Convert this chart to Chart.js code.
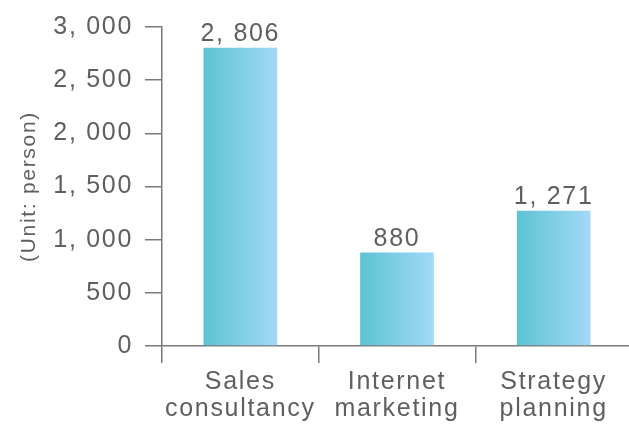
<!DOCTYPE html>
<html>
<head>
<meta charset="utf-8">
<script src="https://cdn.jsdelivr.net/npm/chart.js@4"></script>
<style>
    html, body { margin: 0; padding: 0; background: #fff; overflow: hidden; }
    #wrap { width: 632px; height: 430px; }
</style>
</head>
<body>
<div id="wrap"><canvas id="chart1"></canvas></div>
<script>
const categories = [["Sales", "consultancy"], ["Internet", "marketing"], ["Strategy", "planning"]];
const persons = [2806, 880, 1271];
const yTicks = [0, 500, 1000, 1500, 2000, 2500, 3000];

const textColor = '#5f5f5f';
const lineColor = '#7a7a7a';
const fontFamily = '"Liberation Sans", Arial, sans-serif';

function fmt(v)
{
    // the picture shows a gap after the comma
    return v.toLocaleString('en-US').replace(',', ', ');
}

// letter spacing for the whole canvas (the context is reset on every resize)
const spacing = {
    id: 'spacing',
    beforeUpdate(chart) { chart.ctx.letterSpacing = '1.7px'; },
    beforeLayout(chart) { chart.ctx.letterSpacing = '1.7px'; },
    beforeDraw(chart) { chart.ctx.letterSpacing = '1.7px'; }
};

// value above each bar
const barLabels = {
    id: 'barLabels',
    afterDatasetsDraw(chart) {
        const ctx = chart.ctx;
        const meta = chart.getDatasetMeta(0);
        ctx.save();
        ctx.font = '25px ' + fontFamily;
        ctx.fillStyle = textColor;
        ctx.textAlign = 'center';
        ctx.textBaseline = 'bottom';
        meta.data.forEach((bar, i) => {
            ctx.fillText(fmt(persons[i]), bar.x, bar.y - 1);
        });
        ctx.restore();
    }
};

function barGradient(context)
{
    const chart = context.chart;
    const x = chart.scales.x;
    if (!x || !chart.chartArea) return '#7fcde4';
    const center = x.getPixelForValue(context.dataIndex);
    const half = (x.width / categories.length) * 0.47 / 2;
    const g = chart.ctx.createLinearGradient(center - half, 0, center + half, 0);
    g.addColorStop(0, '#5cc3d2');
    g.addColorStop(1, '#a2d9f6');
    return g;
}

{
    const ctx = document.getElementById("chart1").getContext('2d');

    const chart = new Chart(ctx, {
        type: 'bar',
        data: {
            labels: categories,
            datasets: [{
                data: persons,
                backgroundColor: barGradient,
                borderWidth: 0,
                categoryPercentage: 1,
                barPercentage: 0.47
            }]
        },
        options: {
            responsive: true,
            maintainAspectRatio: false,
            animation: false,
            layout: { padding: { top: 24, right: 0, bottom: 0, left: 0 } },
            plugins: {
                legend: { display: false },
                tooltip: { enabled: false }
            },
            scales: {
                x: {
                    offset: true,
                    grid: {
                        offset: true,
                        drawOnChartArea: false,
                        drawTicks: true,
                        tickLength: 17,
                        color: lineColor,
                        lineWidth: 1.5
                    },
                    border: { color: lineColor, width: 1.5 },
                    ticks: {
                        color: textColor,
                        padding: 6,
                        autoSkip: false,
                        maxRotation: 0,
                        font: { family: fontFamily, size: 25, lineHeight: 1.08 }
                    },
                    afterFit(scale) { scale.height = 84; }
                },
                y: {
                    min: 0,
                    max: 3000,
                    afterBuildTicks(scale) { scale.ticks = yTicks.map(v => ({ value: v })); },
                    grid: {
                        drawOnChartArea: false,
                        drawTicks: true,
                        tickLength: 17,
                        color: lineColor,
                        lineWidth: 1.5
                    },
                    border: { color: lineColor, width: 1.5 },
                    ticks: {
                        color: textColor,
                        padding: 12,
                        autoSkip: false,
                        font: { family: fontFamily, size: 25 },
                        callback: v => fmt(v)
                    },
                    title: {
                        display: true,
                        text: '(Unit: person)',
                        color: textColor,
                        padding: { top: 17, bottom: 0 },
                        font: { family: fontFamily, size: 21 }
                    },
                    afterFit(scale) { scale.width = 162; }
                }
            }
        },
        plugins: [spacing, barLabels]
    });
}
</script>
</body>
</html>
